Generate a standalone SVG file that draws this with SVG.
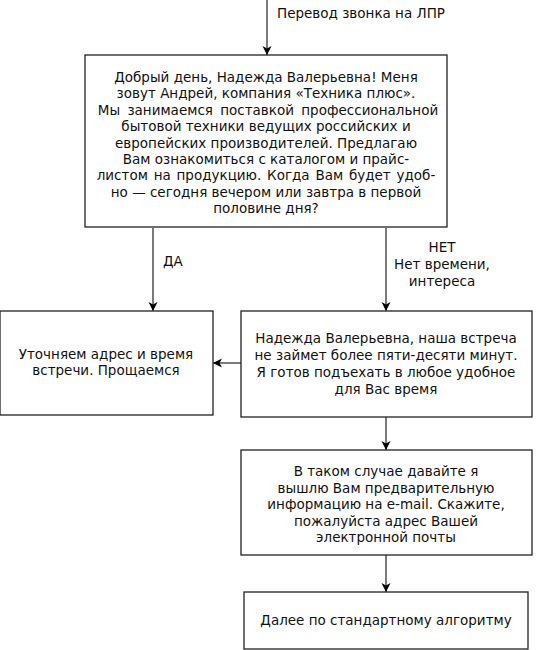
<svg xmlns="http://www.w3.org/2000/svg" width="536" height="650" viewBox="0 0 536 650">
<style>
text{font-family:"DejaVu Sans",Verdana,sans-serif;font-size:13.5px;fill:#111;}
.c{text-anchor:middle;}
.box{fill:#fff;stroke:#222;stroke-width:1.3;}
.ln{stroke:#333;stroke-width:1.3;fill:none;}
</style>
<defs>
<marker id="ah" markerWidth="10" markerHeight="10" refX="9" refY="5" orient="auto" markerUnits="userSpaceOnUse">
<path d="M0,0.5 L9,5 L0,9.5 L2.5,5 z" fill="#000"/>
</marker>
</defs>
<rect width="536" height="650" fill="#fff"/>
<g id="connectors">
<line class="ln" x1="267" y1="0" x2="267" y2="55" marker-end="url(#ah)"/>
<line class="ln" x1="153" y1="228" x2="153" y2="311" marker-end="url(#ah)"/>
<line class="ln" x1="386" y1="228" x2="386" y2="311" marker-end="url(#ah)"/>
<line class="ln" x1="241" y1="363" x2="213" y2="363" marker-end="url(#ah)"/>
<line class="ln" x1="386" y1="417" x2="386" y2="450" marker-end="url(#ah)"/>
<line class="ln" x1="386" y1="555" x2="386" y2="592" marker-end="url(#ah)"/>
<text x="277" y="18">Перевод звонка на ЛПР</text>
<text x="163" y="266">ДА</text>
<text class="c" x="442" y="252">НЕТ</text>
<text class="c" x="442" y="269">Нет времени,</text>
<text class="c" x="442" y="286">интереса</text>
</g>
<g id="n1">
<rect class="box" x="85" y="55" width="362" height="172"/>
<text class="c" x="266" y="82">Добрый день, Надежда Валерьевна! Меня</text>
<text class="c" x="266" y="98.4">зовут Андрей, компания «Техника плюс».</text>
<text class="c" x="268" y="114.8" word-spacing="3">Мы занимаемся поставкой профессиональной</text>
<text class="c" x="266" y="131.2">бытовой техники ведущих российских и</text>
<text class="c" x="266" y="147.6">европейских производителей. Предлагаю</text>
<text class="c" x="266" y="164">Вам ознакомиться с каталогом и прайс-</text>
<text class="c" x="266" y="180.4" word-spacing="1.5">листом на продукцию. Когда Вам будет удоб-</text>
<text class="c" x="266" y="196.8">но — сегодня вечером или завтра в первой</text>
<text class="c" x="266" y="213.2">половине дня?</text>
</g>
<g id="n2">
<rect class="box" x="0" y="311" width="213" height="104"/>
<text class="c" x="106" y="359">Уточняем адрес и время</text>
<text class="c" x="106" y="375">встречи. Прощаемся</text>
</g>
<g id="n3">
<rect class="box" x="241" y="311" width="291" height="106"/>
<text class="c" x="386" y="343">Надежда Валерьевна, наша встреча</text>
<text class="c" x="386" y="360">не займет более пяти-десяти минут.</text>
<text class="c" x="386" y="377">Я готов подъехать в любое удобное</text>
<text class="c" x="386" y="394">для Вас время</text>
</g>
<g id="n4">
<rect class="box" x="241" y="450" width="291" height="105"/>
<text class="c" x="386" y="476">В таком случае давайте я</text>
<text class="c" x="386" y="492.5">вышлю Вам предварительную</text>
<text class="c" x="386" y="509">информацию на e-mail. Скажите,</text>
<text class="c" x="386" y="525.5">пожалуйста адрес Вашей</text>
<text class="c" x="386" y="542">электронной почты</text>
</g>
<g id="n5">
<rect class="box" x="244" y="592" width="284" height="57"/>
<text class="c" x="386" y="625">Далее по стандартному алгоритму</text>
</g>
</svg>
